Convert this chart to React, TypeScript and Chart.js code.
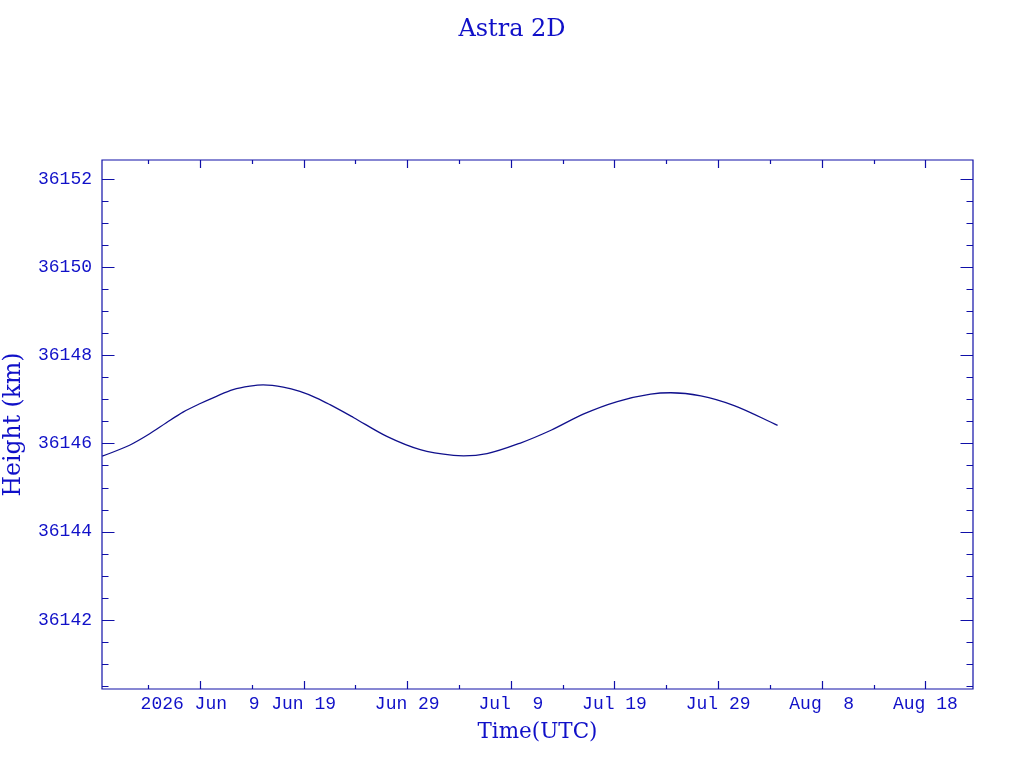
import React, { useEffect, useRef } from "react";
import { Chart, registerables } from "chart.js";

Chart.register(...registerables);

// Time axis: days since 2026 Jun 9 00:00 UTC
const dayOffsets = [
  -9.44, -6.8, -4.86, -3.25, -1.64, -0.03, 1.59, 3.19, 4.81, 6.09, 8.03, 9.64,
  11.26, 12.54, 14.8, 18.03, 21.25, 24.47, 25.44, 27.7, 30.92, 33.87, 37.04,
  40.27, 43.49, 45.43, 48.33, 51.55, 55.74,
];
const heightKm = [
  36145.71, 36145.96, 36146.22, 36146.47, 36146.71, 36146.9, 36147.07, 36147.22,
  36147.3, 36147.33, 36147.28, 36147.18, 36147.03, 36146.88, 36146.59, 36146.16,
  36145.86, 36145.73, 36145.72, 36145.77, 36146.01, 36146.3, 36146.67, 36146.95,
  36147.12, 36147.15, 36147.08, 36146.86, 36146.41,
];

const xMajorTicks = [0, 10, 20, 30, 40, 50, 60, 70];
const xTickLabels = [
  "2026 Jun  9",
  "Jun 19",
  "Jun 29",
  "Jul  9",
  "Jul 19",
  "Jul 29",
  "Aug  8",
  "Aug 18",
];
const xMinorStep = 5;
const xRange = [-9.46, 74.6];

const yMajorTicks = [36142, 36144, 36146, 36148, 36150, 36152];
const yMinorStep = 0.5;
const yRange = [36140.43, 36152.43];

const TEXT = "#1010c8";
const FRAME = "#1010a8";
const LINE = "#10108c";

const frameTicks = {
  id: "frameTicks",
  afterDatasetsDraw(chart: any) {
    const { ctx, chartArea, scales } = chart;
    const { left, right, top, bottom } = chartArea;
    const x = scales.x;
    const y = scales.y;
    ctx.save();
    ctx.strokeStyle = FRAME;
    ctx.lineWidth = 1.2;
    ctx.beginPath();
    ctx.rect(left, top, right - left, bottom - top);
    ctx.stroke();
    ctx.beginPath();
    for (let v = Math.ceil(xRange[0] / xMinorStep) * xMinorStep; v <= xRange[1]; v += xMinorStep) {
      const px = Math.round(x.getPixelForValue(v)) + 0.5;
      const major = xMajorTicks.includes(v);
      const len = major ? 8 : 4;
      ctx.moveTo(px, bottom);
      ctx.lineTo(px, bottom - len);
      ctx.moveTo(px, top);
      ctx.lineTo(px, top + len);
    }
    for (let v = Math.ceil(yRange[0] / yMinorStep) * yMinorStep; v <= yRange[1]; v += yMinorStep) {
      const py = Math.round(y.getPixelForValue(v)) + 0.5;
      const major = yMajorTicks.includes(v);
      const len = major ? 12.5 : 6.5;
      ctx.moveTo(left, py);
      ctx.lineTo(left + len, py);
      ctx.moveTo(right, py);
      ctx.lineTo(right - len, py);
    }
    ctx.stroke();
    ctx.restore();
  },
};

export default function App() {
  const canvasRef = useRef<HTMLCanvasElement | null>(null);

  useEffect(() => {
    if (!canvasRef.current) return;
    const points = dayOffsets.map((d, i) => ({ x: d, y: heightKm[i] }));
    const chart = new Chart(canvasRef.current, {
      type: "line",
      data: {
        datasets: [
          {
            data: points,
            borderColor: LINE,
            borderWidth: 1.3,
            pointRadius: 0,
            fill: false,
            cubicInterpolationMode: "monotone",
          },
        ],
      },
      options: {
        responsive: false,
        animation: false,
        layout: { padding: 0 },
        plugins: {
          legend: { display: false },
          tooltip: { enabled: false },
          title: {
            display: true,
            text: "Astra 2D",
            color: TEXT,
            font: { family: "DejaVu Serif", size: 24, weight: "normal" },
            padding: { top: 15.6, bottom: 115.6 },
          },
        },
        scales: {
          x: {
            type: "linear",
            min: xRange[0],
            max: xRange[1],
            grid: { display: false, drawTicks: false },
            border: { display: false },
            afterBuildTicks: (scale: any) => {
              scale.ticks = xMajorTicks.map((v) => ({ value: v }));
            },
            afterFit: (scale: any) => {
              scale.height = 79;
            },
            ticks: {
              autoSkip: false,
              maxRotation: 0,
              padding: 4,
              color: TEXT,
              font: { family: "Liberation Mono", size: 18 },
              callback: (value: any) => {
                const i = xMajorTicks.indexOf(Number(value));
                return i >= 0 ? xTickLabels[i] : "";
              },
            },
            title: {
              display: true,
              text: "Time(UTC)",
              color: TEXT,
              font: { family: "DejaVu Serif", size: 21.5 },
              padding: { top: 0, bottom: 23.1 },
            },
          },
          y: {
            type: "linear",
            min: yRange[0],
            max: yRange[1],
            grid: { display: false, drawTicks: false },
            border: { display: false },
            afterBuildTicks: (scale: any) => {
              scale.ticks = yMajorTicks.map((v) => ({ value: v }));
            },
            afterFit: (scale: any) => {
              scale.width = 102;
            },
            ticks: {
              padding: 10,
              color: TEXT,
              font: { family: "Liberation Mono", size: 18 },
              callback: (value: any) => String(value),
            },
            title: {
              display: true,
              text: "Height (km)",
              color: TEXT,
              font: { family: "DejaVu Serif", size: 23.5 },
              padding: { top: 0, bottom: 0 },
            },
          },
          yRight: {
            type: "linear",
            position: "right",
            min: yRange[0],
            max: yRange[1],
            grid: { display: false, drawTicks: false },
            border: { display: false },
            ticks: { display: false },
            afterFit: (scale: any) => {
              scale.width = 51;
            },
          },
        },
      },
      plugins: [frameTicks],
    });
    return () => chart.destroy();
  }, []);

  return (
    <div style={{ position: "absolute", left: 0, top: 0, width: 1024, height: 768, background: "#fff" }}>
      <canvas ref={canvasRef} width={1024} height={768} style={{ display: "block" }} />
    </div>
  );
}
